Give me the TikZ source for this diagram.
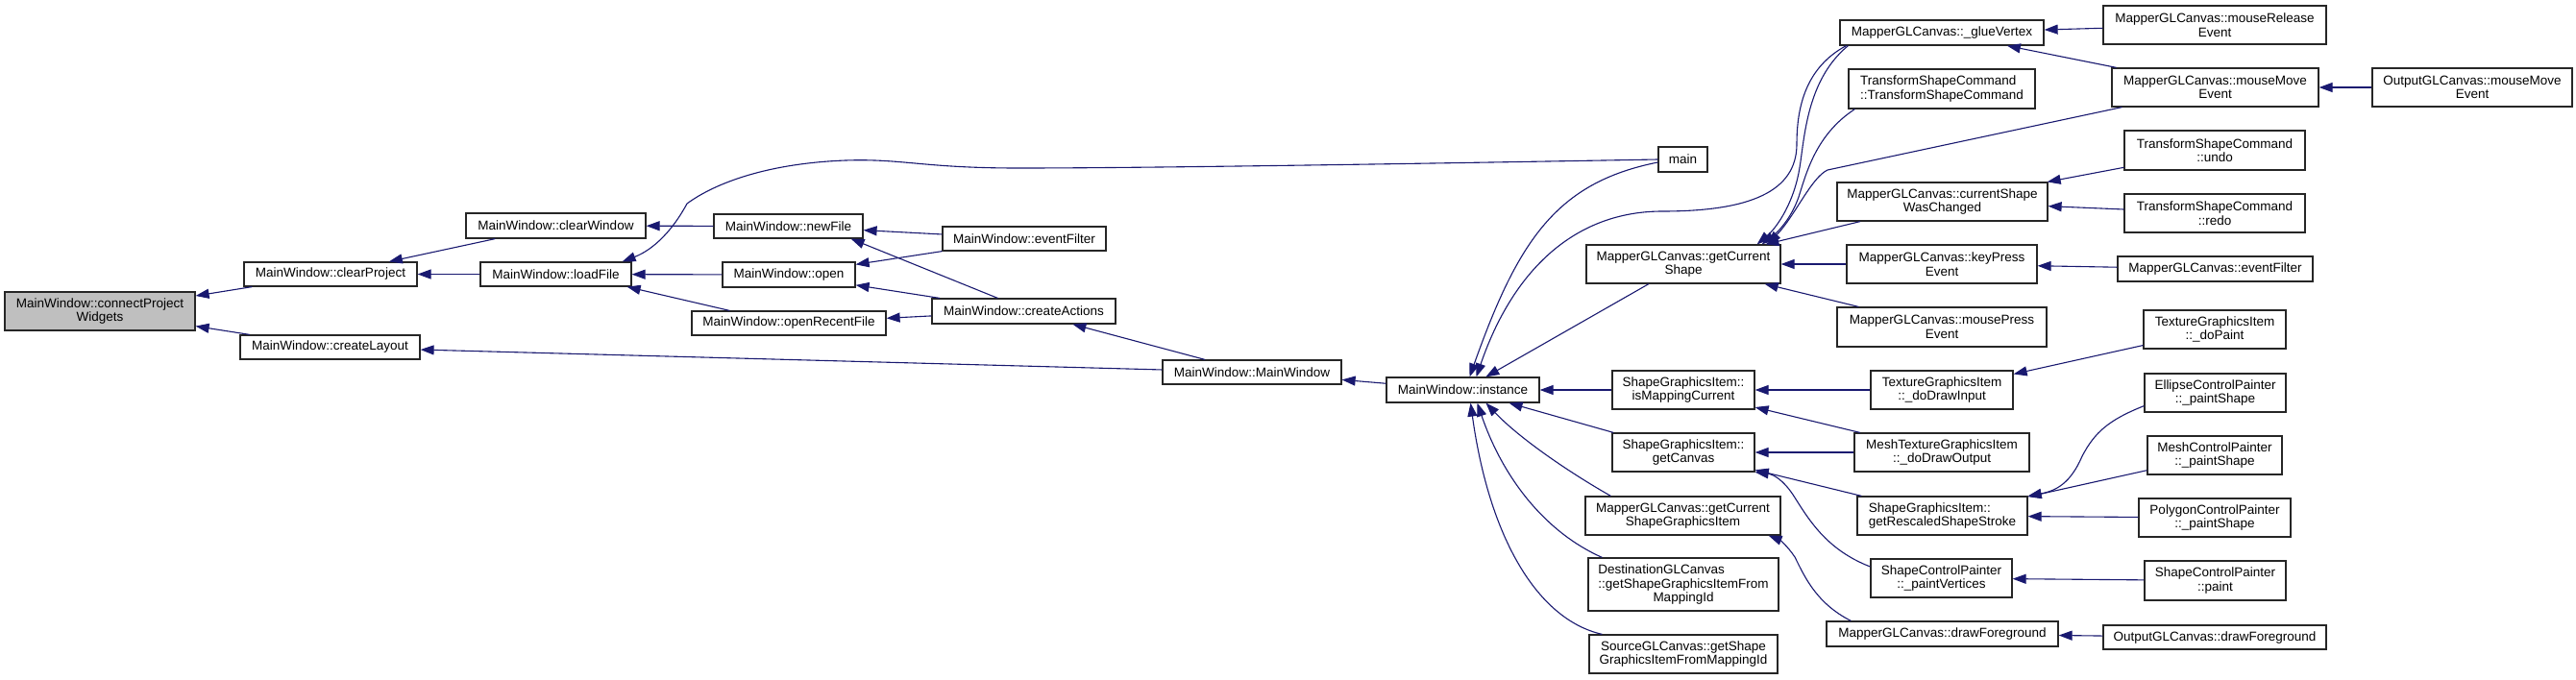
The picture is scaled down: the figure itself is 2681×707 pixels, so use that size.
\documentclass[tikz,border=0pt]{standalone}
\usepackage{fontspec}
\setmainfont{Liberation Sans}
\usetikzlibrary{arrows.meta,calc}
\definecolor{mblue}{HTML}{191970}
\definecolor{rootgray}{HTML}{BFBFBF}
\tikzset{
  box/.style={draw=black!85, line width=0.6pt, fill=white, inner sep=0pt, align=center,
    font=\fontsize{6.75pt}{7.3pt}\selectfont},
  rootbox/.style={fill=rootgray},
  edge/.style={draw=mblue, line width=0.55pt, -{Triangle[length=7pt,width=5pt,fill=mblue]}}
}
\newcommand\bx[7][]{\node[box,#1,minimum width={(#5-#3)*0.5pt},minimum height={(#6-#4)*0.5pt}] (#2) at ({(#3+#5)/2},{(#4+#6)/2}) {#7};}
\begin{document}
\begin{tikzpicture}[x=0.5pt,y=-0.5pt]
\useasboundingbox[fill=white] (0,0) rectangle (2681,707);
% nodes
\bx[rootbox]{connect}{5}{304}{203}{344}{MainWindow::connectProject\\Widgets}
\bx{clearProject}{254}{273}{434}{298}{MainWindow::clearProject}
\bx{createLayout}{250}{349}{437}{374}{MainWindow::createLayout}
\bx{clearWindow}{485}{222}{672}{248}{MainWindow::clearWindow}
\bx{loadFile}{500}{273}{657}{298}{MainWindow::loadFile}
\bx{newFile}{743}{223}{898}{248}{MainWindow::newFile}
\bx{open}{752}{273}{890}{299}{MainWindow::open}
\bx{openRecentFile}{720}{324}{922}{349}{MainWindow::openRecentFile}
\bx{mwEventFilter}{981}{236}{1151}{261}{MainWindow::eventFilter}
\bx{createActions}{970}{311}{1161}{337}{MainWindow::createActions}
\bx{mwCtor}{1210}{375}{1396}{400}{MainWindow::MainWindow}
\bx{main}{1726}{153}{1777}{179}{main}
\bx{instance}{1443}{393}{1602}{419}{MainWindow::instance}
\bx{getCurrentShape}{1651}{255}{1853}{295}{MapperGLCanvas::getCurrent\\Shape}
\bx{glueVertex}{1915}{21}{2127}{47}{MapperGLCanvas::\_glueVertex}
\bx{tscCtor}{1924}{72}{2118}{113}{\rlap{TransformShapeCommand}\phantom{::TransformShapeCommand}\\::TransformShapeCommand}
\bx{cswc}{1912}{190}{2131}{230}{MapperGLCanvas::currentShape\\WasChanged}
\bx{keyPress}{1922}{255}{2120}{295}{MapperGLCanvas::keyPress\\Event}
\bx{mousePress}{1912}{320}{2130}{361}{MapperGLCanvas::mousePress\\Event}
\bx{mouseRelease}{2189}{6}{2421}{46}{MapperGLCanvas::mouseRelease\\Event}
\bx{mouseMove}{2198}{71}{2413}{111}{MapperGLCanvas::mouseMove\\Event}
\bx{outMouseMove}{2469}{71}{2677}{111}{OutputGLCanvas::mouseMove\\Event}
\bx{undo}{2211}{136}{2399}{177}{TransformShapeCommand\\::undo}
\bx{redo}{2211}{202}{2399}{242}{TransformShapeCommand\\::redo}
\bx{mglEventFilter}{2204}{267}{2407}{293}{MapperGLCanvas::eventFilter}
\bx{doPaint}{2231}{323}{2379}{363}{TextureGraphicsItem\\::\_doPaint}
\bx{isMapping}{1678}{386}{1826}{426}{ShapeGraphicsItem::\\isMappingCurrent}
\bx{getCanvas}{1678}{451}{1826}{491}{ShapeGraphicsItem::\\getCanvas}
\bx{gcsgi}{1650}{517}{1853}{557}{MapperGLCanvas::getCurrent\\ShapeGraphicsItem}
\bx{dest}{1653}{581}{1851}{636}{\rlap{DestinationGLCanvas}\phantom{::getShapeGraphicsItemFrom}\\::getShapeGraphicsItemFrom\\MappingId}
\bx{source}{1654}{661}{1850}{701}{SourceGLCanvas::getShape\\GraphicsItemFromMappingId}
\bx{doDrawInput}{1947}{386}{2095}{426}{TextureGraphicsItem\\::\_doDrawInput}
\bx{doDrawOutput}{1930}{451}{2112}{491}{MeshTextureGraphicsItem\\::\_doDrawOutput}
\bx{rescaled}{1933}{517}{2110}{557}{\rlap{ShapeGraphicsItem::}\phantom{getRescaledShapeStroke}\\getRescaledShapeStroke}
\bx{paintVertices}{1947}{582}{2094}{622}{ShapeControlPainter\\::\_paintVertices}
\bx{drawFg}{1901}{647}{2142}{673}{MapperGLCanvas::drawForeground}
\bx{ellipse}{2232}{389}{2379}{429}{EllipseControlPainter\\::\_paintShape}
\bx{meshCP}{2235}{454}{2375}{494}{MeshControlPainter\\::\_paintShape}
\bx{polygon}{2226}{519}{2384}{559}{PolygonControlPainter\\::\_paintShape}
\bx{scpPaint}{2232}{584}{2379}{625}{ShapeControlPainter\\::paint}
\bx{outDrawFg}{2189}{651}{2421}{676}{OutputGLCanvas::drawForeground}
% edges
\draw[edge] (clearProject) -- (connect);
\draw[edge] (createLayout) -- (connect);
\draw[edge] (clearWindow) -- (clearProject);
\draw[edge] (loadFile) -- (clearProject);
\draw[edge] (newFile) -- (clearWindow);
\draw[edge] (open) -- (loadFile);
\draw[edge] ($(openRecentFile.north west)+(40,0)$) -- ($(loadFile.south east)+(-5,0)$);
\draw[edge] (main.west) .. controls (1500,170) and (1200,175) .. (1060,175)
  .. controls (960,175) and (940,165) .. (880,167)
  .. controls (800,170) and (745,190) .. (715,212)
  .. controls (700,240) and (680,260) .. ($(loadFile.north east)+(-10,0)$);
\draw[edge] (mwEventFilter) -- (newFile);
\draw[edge] (mwEventFilter) -- (open);
\draw[edge] ($(createActions.north west)+(69,0)$) -- ($(newFile.south east)+(-13,0)$);
\draw[edge] (createActions) -- (open);
\draw[edge] (createActions) -- (openRecentFile);
\draw[edge] (mwCtor) -- (createActions);
\draw[edge] (mwCtor) -- (createLayout);
\draw[edge] (instance) -- (mwCtor);
\draw[edge] (getCurrentShape) -- (instance);
\draw[edge] ($(main.west)+(0,3)$) .. controls (1620,190) and (1580,250) .. ($(instance.north)+(7,0)$);
\draw[edge] ($(glueVertex.south west)+(7,0)$) .. controls (1880,70) and (1870,110) .. (1870,150)
  .. controls (1870,200) and (1820,220) .. (1730,220)
  .. controls (1640,220) and (1575,280) .. ($(instance.north)+(14,0)$);
\draw[edge] ($(glueVertex.south west)+(9,0)$) .. controls (1878,85) and (1878,150) .. (1872,180)
  .. controls (1865,215) and (1848,238) .. ($(getCurrentShape.north east)+(-25,0)$);
\draw[edge] ($(tscCtor.south west)+(7,0)$) .. controls (1890,140) and (1880,180) .. (1872,205)
  .. controls (1864,228) and (1850,242) .. ($(getCurrentShape.north east)+(-20,0)$);
\draw[edge] ($(mouseMove.south west)+(11,0)$) -- (1902,177)
  .. controls (1885,185) and (1868,225) .. ($(getCurrentShape.north east)+(-14,0)$);
\draw[edge] (cswc) -- (getCurrentShape);
\draw[edge] (keyPress) -- (getCurrentShape);
\draw[edge] (mousePress) -- (getCurrentShape);
\draw[edge] (mouseRelease) -- (glueVertex);
\draw[edge] (mouseMove) -- (glueVertex);
\draw[edge] (outMouseMove) -- (mouseMove);
\draw[edge] (undo) -- (cswc);
\draw[edge] (redo) -- (cswc);
\draw[edge] (mglEventFilter) -- (keyPress);
\draw[edge] (doPaint) -- (doDrawInput);
\draw[edge] (doDrawInput) -- (isMapping);
\draw[edge] (doDrawOutput) -- (isMapping);
\draw[edge] (doDrawOutput) -- (getCanvas);
\draw[edge] (isMapping) -- (instance);
\draw[edge] (getCanvas) -- (instance);
\draw[edge] (rescaled) -- (getCanvas);
\draw[edge] ($(paintVertices.west)+(0,-12)$) .. controls (1900,572) and (1882,540) .. (1866,515)
  .. controls (1856,500) and (1846,494) .. (getCanvas.south east);
\draw[edge] ($(gcsgi.north west)+(27,0)$) .. controls (1630,490) and (1580,455) .. ($(instance.south)+(24,0)$);
\draw[edge] ($(dest.north west)+(15,0)$) .. controls (1610,555) and (1565,500) .. ($(instance.south)+(15,0)$);
\draw[edge] ($(source.north west)+(14,0)$) .. controls (1600,645) and (1550,560) .. ($(instance.south)+(8,0)$);
\draw[edge] ($(drawFg.north west)+(26,0)$) .. controls (1890,628) and (1878,600) .. (1868,580)
  .. controls (1860,568) and (1852,562) .. ($(gcsgi.south east)+(-13,0)$);
\draw[edge] (outDrawFg) -- (drawFg);
\draw[edge] ($(ellipse.south west)+(0,-7)$) .. controls (2195,437) and (2180,450) .. (2167,475)
  .. controls (2155,503) and (2140,511) .. (rescaled.north east);
\draw[edge] (meshCP) -- (rescaled);
\draw[edge] (polygon) -- (rescaled);
\draw[edge] (scpPaint) -- (paintVertices);
\end{tikzpicture}
\end{document}
